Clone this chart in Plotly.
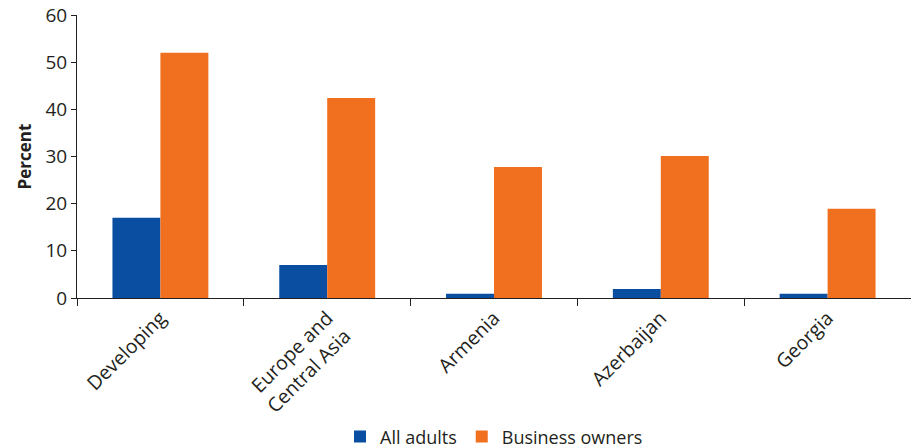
import plotly.graph_objects as go

categories = ["Developing", "Europe and<br>Central Asia", "Armenia", "Azerbaijan", "Georgia"]
all_adults = [17, 7, 0.9, 1.9, 0.9]
business_owners = [52, 42.4, 27.8, 30.1, 18.9]

blue = "#0a4ea2"
orange = "#f07020"
font_family = "Open Sans, Noto Sans, sans-serif"

fig = go.Figure()
fig.add_trace(go.Bar(x=categories, y=all_adults, name="All adults",
                     marker=dict(color=blue, line=dict(width=0))))
fig.add_trace(go.Bar(x=categories, y=business_owners, name="Business owners",
                     marker=dict(color=orange, line=dict(width=0))))

fig.update_layout(
    width=911, height=448,
    margin=dict(l=77, r=0, t=15, b=150, autoexpand=False),
    barmode="group", bargap=0.425, bargroupgap=0,
    plot_bgcolor="white", paper_bgcolor="white",
    font=dict(family=font_family, size=18, color="#231f20"),
    showlegend=True,
    legend=dict(orientation="h", x=0.5, xanchor="center", y=-0.425, yanchor="top",
                font=dict(size=18), itemwidth=30, traceorder="normal"),
)
fig.update_xaxes(
    type="category", tickangle=-45, tickson="boundaries", automargin=False,
    ticks="outside", ticklen=7, tickcolor="#231f20",
    showline=True, linecolor="#231f20", linewidth=1,
    showgrid=False, tickfont=dict(size=19.5),
)
fig.update_yaxes(
    range=[0, 60], dtick=10, ticks="outside", ticklen=5, tickcolor="#231f20",
    showline=True, linecolor="#231f20", linewidth=1, automargin=False,
    showgrid=False, zeroline=False, tickfont=dict(size=19),
    title=dict(text="<b>Percent</b>", font=dict(size=17), standoff=9),
)

fig.write_html("out.html")
